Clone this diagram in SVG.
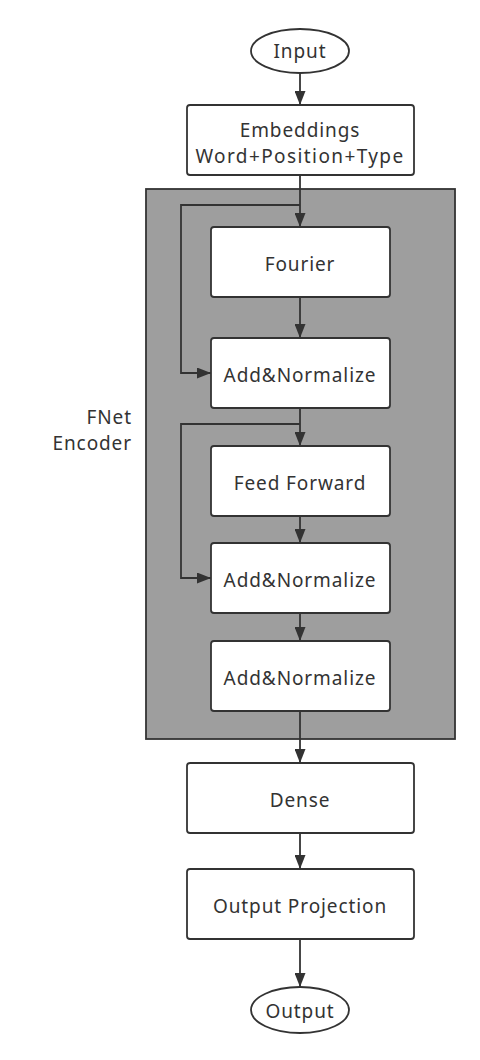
<svg xmlns="http://www.w3.org/2000/svg" width="480" height="1060" viewBox="0 0 480 1060">
<style>
.n{fill:#fff;stroke:#333;stroke-width:1.8}
.t{font-family:"Noto Sans","Open Sans",sans-serif;font-size:19px;letter-spacing:0.9px;fill:#333;text-anchor:middle}
.c{fill:none;stroke:#333;stroke-width:1.8}
</style>
<defs>
<marker id="a" markerWidth="14" markerHeight="11" refX="14" refY="5.5" orient="auto" markerUnits="userSpaceOnUse" viewBox="0 0 14 11">
<path d="M0,0 L14,5.5 L0,11 z" fill="#333"/>
</marker>
</defs>
<rect width="480" height="1060" fill="#fff"/>
<g id="encoder">
<rect x="146" y="189" width="309" height="550" fill="#9e9e9e" stroke="#333" stroke-width="1.8"/>
<text class="t" x="132" y="424" style="text-anchor:end">FNet</text>
<text class="t" x="132" y="450" style="text-anchor:end">Encoder</text>
</g>
<g id="connectors">
<path class="c" d="M300,73 V105" marker-end="url(#a)"/>
<path class="c" d="M300,175 V227" marker-end="url(#a)"/>
<path class="c" d="M300,205 H181 V373 H211" marker-end="url(#a)"/>
<path class="c" d="M300,297 V338" marker-end="url(#a)"/>
<path class="c" d="M300,408 V446" marker-end="url(#a)"/>
<path class="c" d="M300,424 H181 V578 H211" marker-end="url(#a)"/>
<path class="c" d="M300,516 V543" marker-end="url(#a)"/>
<path class="c" d="M300,613 V641" marker-end="url(#a)"/>
<path class="c" d="M300,711 V763" marker-end="url(#a)"/>
<path class="c" d="M300,833 V869" marker-end="url(#a)"/>
<path class="c" d="M300,939 V987" marker-end="url(#a)"/>
</g>
<g id="input">
<ellipse class="n" cx="300" cy="51" rx="49" ry="22"/>
<text class="t" x="300" y="58">Input</text>
</g>
<g id="embeddings">
<rect class="n" x="187" y="105" width="227" height="70" rx="3"/>
<text class="t" x="300" y="137">Embeddings</text>
<text class="t" x="300" y="163" style="letter-spacing:1.4px">Word+Position+Type</text>
</g>
<g id="fourier">
<rect class="n" x="211" y="227" width="179" height="70" rx="3"/>
<text class="t" x="300" y="271">Fourier</text>
</g>
<g id="addnorm1">
<rect class="n" x="211" y="338" width="179" height="70" rx="3"/>
<text class="t" x="300" y="382">Add&amp;Normalize</text>
</g>
<g id="feedforward">
<rect class="n" x="211" y="446" width="179" height="70" rx="3"/>
<text class="t" x="300" y="490">Feed Forward</text>
</g>
<g id="addnorm2">
<rect class="n" x="211" y="543" width="179" height="70" rx="3"/>
<text class="t" x="300" y="587">Add&amp;Normalize</text>
</g>
<g id="addnorm3">
<rect class="n" x="211" y="641" width="179" height="70" rx="3"/>
<text class="t" x="300" y="685">Add&amp;Normalize</text>
</g>
<g id="dense">
<rect class="n" x="187" y="763" width="227" height="70" rx="3"/>
<text class="t" x="300" y="807">Dense</text>
</g>
<g id="projection">
<rect class="n" x="187" y="869" width="227" height="70" rx="3"/>
<text class="t" x="300" y="913">Output Projection</text>
</g>
<g id="output">
<ellipse class="n" cx="300" cy="1010" rx="49" ry="23"/>
<text class="t" x="300" y="1018">Output</text>
</g>
</svg>
